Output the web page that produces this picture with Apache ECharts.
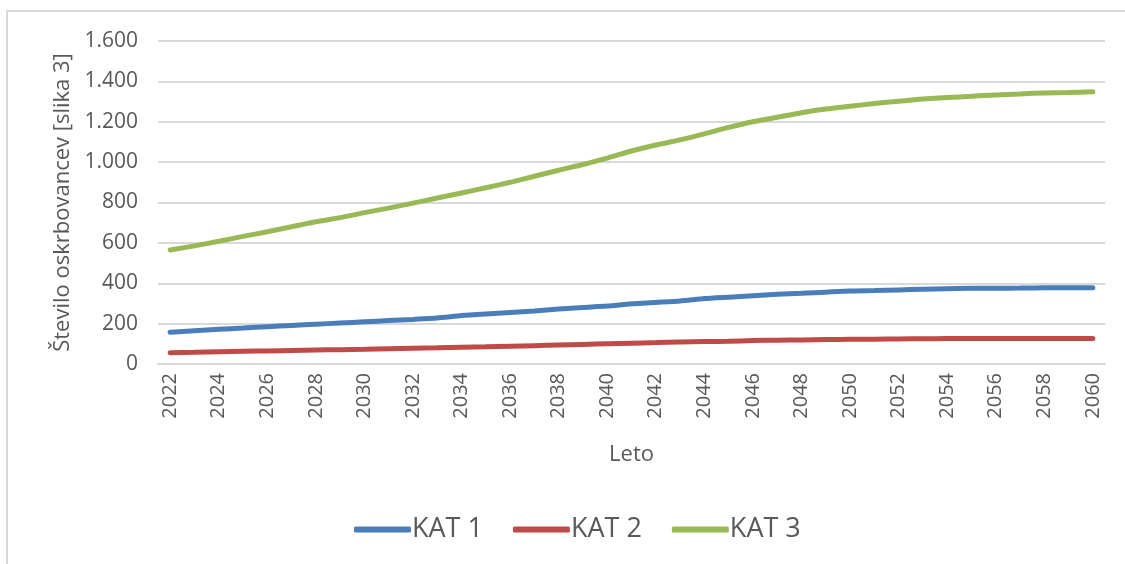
<!DOCTYPE html>
<html>
<head>
<meta charset="utf-8">
<script src="https://cdn.jsdelivr.net/npm/echarts@6/dist/echarts.min.js"></script>
<style>
  html, body { margin: 0; padding: 0; background: #fff; }
  #frame {
    position: absolute; left: 6px; top: 10px; width: 1200px; height: 600px;
    border-top: 2px solid #d9d9d9; border-left: 2px solid #d9d9d9;
  }
  #chart { position: absolute; left: 0; top: 0; width: 1125px; height: 564px; }
</style>
</head>
<body>
<div id="frame"></div>
<div id="chart"></div>
<script>
const years = []
for (let y = 2022; y <= 2060; y++) years.push(String(y))

const kat1 = [157, 165, 172, 178, 185, 191, 197, 203, 209, 215, 221, 228, 240, 248, 255, 262, 272, 280, 287, 298,
  305, 312, 324, 331, 338, 345, 350, 356, 362, 364, 367, 370, 373, 375, 375, 376, 378, 378, 378]
const kat2 = [56, 58, 61, 63, 65, 67, 69, 71, 73, 76, 78, 80, 83, 85, 88, 91, 94, 97, 100, 103,
  106, 109, 111, 113, 116, 118, 119, 121, 122, 123, 124, 125, 126, 126, 126, 126, 126, 126, 126]
const kat3 = [565, 585, 608, 632, 655, 680, 705, 725, 750, 772, 797, 822, 847, 873, 900, 930, 960, 988, 1020, 1055,
  1085, 1110, 1140, 1172, 1200, 1222, 1245, 1263, 1277, 1290, 1302, 1313, 1320, 1326, 1333, 1338, 1343, 1345, 1348]

const font = 'Open Sans'
const grey = '#595959'

const chart = echarts.init(document.getElementById('chart'))
const mk = (name, data, color) => ({
  name,
  type: 'line',
  data,
  symbol: 'none',
  smooth: 0.2,
  lineStyle: { width: 5, color, cap: 'round' },
  itemStyle: { color }
})

chart.setOption({
  animation: false,
  grid: { left: 158, right: 20, top: 41, bottom: 200 },
  legend: {
    bottom: 16,
    left: 349,
    icon: 'roundRect',
    itemWidth: 57,
    itemHeight: 6,
    itemGap: 30,
    textStyle: { fontFamily: font, fontSize: 27, color: grey, padding: [0, 0, 0, -4] },
    data: ['KAT 1', 'KAT 2', 'KAT 3']
  },
  xAxis: {
    type: 'category',
    data: years,
    boundaryGap: true,
    name: 'Leto',
    nameLocation: 'middle',
    nameGap: 80,
    nameTextStyle: { fontFamily: font, fontSize: 22, color: grey },
    axisLine: { lineStyle: { color: '#d9d9d9', width: 2 } },
    axisTick: { show: false },
    axisLabel: { interval: 1, rotate: 90, fontFamily: font, fontSize: 20, color: grey, margin: 9 }
  },
  yAxis: {
    type: 'value',
    min: 0,
    max: 1600,
    interval: 200,
    name: 'Število oskrbovancev [slika 3]',
    nameLocation: 'middle',
    nameGap: 82,
    nameTextStyle: { fontFamily: font, fontSize: 22, color: grey },
    axisLine: { show: false },
    axisTick: { show: false },
    splitLine: { lineStyle: { color: '#d9d9d9', width: 2 } },
    axisLabel: {
      fontFamily: font, fontSize: 21, color: grey, margin: 20,
      formatter: v => String(v).replace(/\B(?=(\d{3})+(?!\d))/g, '.')
    }
  },
  series: [
    mk('KAT 1', kat1, '#4a7ebb'),
    mk('KAT 2', kat2, '#be4b48'),
    mk('KAT 3', kat3, '#98b954')
  ]
})
</script>
</body>
</html>
